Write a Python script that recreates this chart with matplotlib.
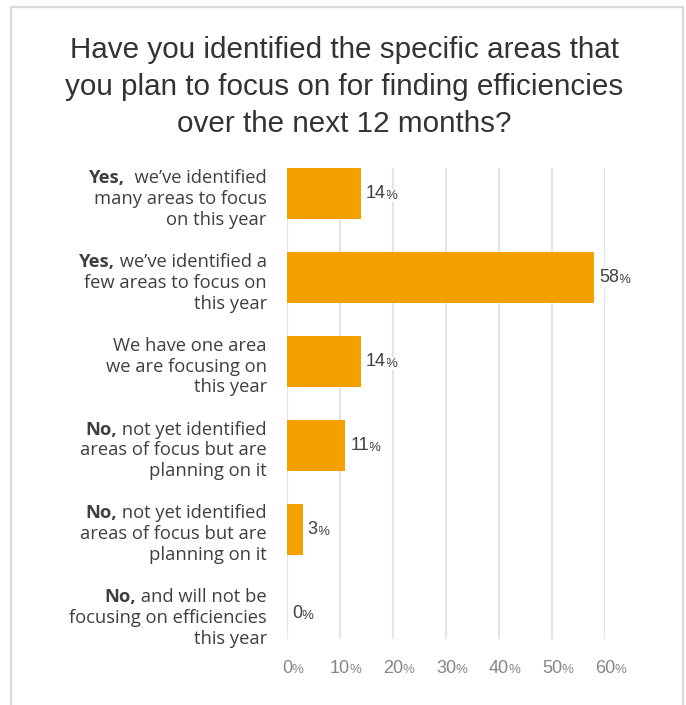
import matplotlib
matplotlib.use("Agg")
import matplotlib.pyplot as plt
from matplotlib.patches import Rectangle

title = ("Have you identified the specific areas that\n"
         "you plan to focus on for finding efficiencies\n"
         "over the next 12 months?")

# first-line bold prefix, rest of first line, following lines
label_bold = ["Yes,", "Yes,", "", "No,", "No,", "No,"]
label_first = ["  we\u2019ve identified", " we\u2019ve identified a", "We have one area",
               " not yet identified", " not yet identified", " and will not be"]
label_rest = [["many areas to focus", "on this year"],
              ["few areas to focus on", "this year"],
              ["we are focusing on", "this year"],
              ["areas of focus but are", "planning on it"],
              ["areas of focus but are", "planning on it"],
              ["focusing on efficiencies", "this year"]]
values = [14, 58, 14, 11, 3, 0]
ticks = [0, 10, 20, 30, 40, 50, 60]

BAR = "#F5A000"
DARK = "#3f3f3f"
GREY = "#8a8584"
LABEL_FONT = "Open Sans"
NUM_FONT = "Liberation Sans"

fig = plt.figure(figsize=(6.86, 7.05), dpi=100)
fig.patches.append(Rectangle((11 / 686, -0.05), 672 / 686, 1.05 - 7 / 705,
                             transform=fig.transFigure, fill=False,
                             edgecolor="#D6DADA", lw=1.6))

fig.text(344 / 686, 1 - 87 / 705, title, ha="center", va="center",
         fontsize=21.3, family=NUM_FONT, color="#333333", linespacing=1.4)

ax = fig.add_axes([287 / 686, 66 / 705, (605 - 287) / 686, (639 - 168) / 705])
n = len(values)
ypos = list(range(n))
ax.barh(ypos, values, height=0.61, color=BAR, zorder=2)
ax.set_ylim(n - 1 + 0.305, -0.305)
ax.set_xlim(0, 60)
ax.set_xticks(ticks)
ax.set_xticklabels([])
ax.set_yticks([])
ax.tick_params(length=0)
ax.grid(axis="x", color="#E3E6E6", lw=1.6, zorder=0)
ax.set_axisbelow(True)
for s in ax.spines.values():
    s.set_visible(False)

ytr = ax.get_yaxis_transform()
step = 15.1  # points between label lines
for i in range(n):
    lines = [label_first[i]] + label_rest[i]
    k0 = (len(lines) - 1) / 2
    for k, line in enumerate(lines):
        t = ax.annotate(line, xy=(0, i), xycoords=ytr,
                        xytext=(-14.5, -(k - k0) * step - 3.6), textcoords="offset points",
                        ha="right", va="center", fontsize=13.2, family=LABEL_FONT,
                        color=DARK)
        if k == 0 and label_bold[i]:
            ax.annotate(label_bold[i], xy=(0, 0), xycoords=t, ha="right", va="bottom",
                        fontsize=13.2, family=LABEL_FONT, fontweight="bold", color=DARK)

# value labels with small percent sign
for i, v in enumerate(values):
    t = ax.annotate(str(v), xy=(v, i), xytext=(3.5, 0), textcoords="offset points",
                    ha="left", va="center", fontsize=13, family=NUM_FONT, color=DARK,
                    bbox=dict(boxstyle="square,pad=0.05", fc="white", ec="none"),
                    annotation_clip=False, zorder=6)
    ax.annotate("%", xy=(1, 0.02), xycoords=t, xytext=(-0.5, 0),
                textcoords="offset points", ha="left", va="bottom",
                fontsize=9.5, family=NUM_FONT, color=DARK,
                bbox=dict(boxstyle="square,pad=0.05", fc="white", ec="none"),
                zorder=5)

xtr = ax.get_xaxis_transform()
for tk in ticks:
    t = ax.annotate(str(tk), xy=(tk, 0), xycoords=xtr, xytext=(0, -21),
                    textcoords="offset points", ha="center", va="center",
                    fontsize=13, family=NUM_FONT, color=GREY, annotation_clip=False)
    ax.annotate("%", xy=(1, 0.02), xycoords=t, xytext=(-0.5, 0),
                textcoords="offset points", ha="left", va="bottom",
                fontsize=9.5, family=NUM_FONT, color=GREY)

fig.savefig("out.png", dpi=100)
